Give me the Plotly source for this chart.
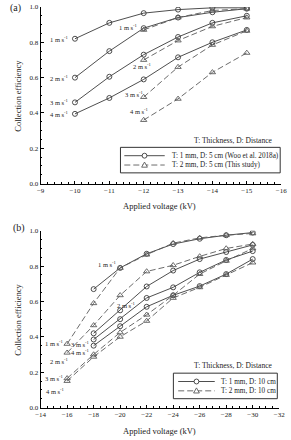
import plotly.graph_objects as go

# ---------------- data: panel (a) ----------------
volt_a = [-10, -11, -12, -13, -14, -15]
woo_1 = [0.82, 0.91, 0.965, 0.985, 0.995, 0.995]
woo_2 = [0.60, 0.75, 0.88, 0.94, 0.97, 0.99]
woo_3 = [0.46, 0.605, 0.73, 0.83, 0.91, 0.95]
woo_4 = [0.395, 0.485, 0.59, 0.715, 0.80, 0.87]

volt_a_study = [-12, -13, -14, -15]
study_1 = [0.87, 0.94, 0.98, 0.99]
study_2 = [0.70, 0.81, 0.89, 0.94]
study_3 = [0.49, 0.66, 0.785, 0.865]
study_4 = [0.36, 0.48, 0.63, 0.74]

# ---------------- data: panel (b) ----------------
volt_b_1mm = [-18, -20, -22, -24, -26, -28, -30]
t1_1 = [0.67, 0.79, 0.87, 0.925, 0.955, 0.975, 0.99]
t1_2 = [0.42, 0.55, 0.685, 0.775, 0.84, 0.88, 0.92]
t1_3 = [0.385, 0.50, 0.62, 0.68, 0.765, 0.835, 0.885]
t1_4 = [0.35, 0.46, 0.57, 0.635, 0.687, 0.755, 0.84]

volt_b_2mm = [-16, -18, -20, -22, -24, -26, -28, -30]
t2_1 = [0.36, 0.59, 0.79, 0.865, 0.93, 0.96, 0.975, 0.985]
t2_2 = [0.31, 0.465, 0.635, 0.77, 0.805, 0.855, 0.90, 0.925]
t2_3 = [0.165, 0.30, 0.425, 0.525, 0.635, 0.755, 0.83, 0.90]
t2_4 = [0.15, 0.287, 0.40, 0.49, 0.62, 0.68, 0.75, 0.82]

speed_labels = ["1 m s<sup>-1</sup>", "2 m s<sup>-1</sup>", "3 m s<sup>-1</sup>", "4 m s<sup>-1</sup>"]
legend_a = ["T: 1 mm, D: 5 cm (Woo et al. 2018a)", "T: 2 mm, D: 5 cm (This study)"]
legend_b = ["T: 1 mm, D: 10 cm", "T: 2 mm, D: 10 cm"]

FONT = "Liberation Serif"
SOLID_C = "#3a3a3a"
DASH_C = "#5a5a5a"
DASH = "6px,3px"

fig = go.Figure()

def add(xs, ys, solid, xa, ya, name):
    fig.add_trace(go.Scatter(
        x=xs, y=ys, mode="lines+markers", xaxis=xa, yaxis=ya,
        line=dict(color=SOLID_C if solid else DASH_C, width=0.9,
                  dash="solid" if solid else DASH),
        marker=dict(symbol="circle-open" if solid else "triangle-up-open",
                    size=5 if solid else 5.5,
                    color=SOLID_C if solid else DASH_C,
                    line=dict(width=0.9)),
        name=name, showlegend=False))

for ys in [woo_1, woo_2, woo_3, woo_4]:
    add(volt_a, ys, True, "x", "y", legend_a[0])
for ys in [study_1, study_2, study_3, study_4]:
    add(volt_a_study, ys, False, "x", "y", legend_a[1])
for ys in [t1_1, t1_2, t1_3, t1_4]:
    add(volt_b_1mm, ys, True, "x2", "y2", legend_b[0])
for ys in [t2_1, t2_2, t2_3, t2_4]:
    add(volt_b_2mm, ys, False, "x2", "y2", legend_b[1])

W, H = 291, 440
def px(x):
    return x / W
def py(y):
    return 1 - y / H

axis_common = dict(showline=True, linecolor="black", linewidth=1, ticks="inside",
                   ticklen=3, tickwidth=0.8, tickcolor="black", showgrid=False,
                   zeroline=False, mirror=False,
                   tickfont=dict(family=FONT, size=7, color="#222"))

fig.update_layout(
    width=W, height=H, margin=dict(l=0, r=0, t=0, b=0),
    paper_bgcolor="white", plot_bgcolor="white",
    font=dict(family=FONT, color="#222"), showlegend=False,
    xaxis=dict(domain=[px(37), px(287)], range=[-9, -16], dtick=1, anchor="y",
               minor=dict(dtick=0.2, ticks="inside", ticklen=1.5, tickcolor="black"),
               **axis_common),
    yaxis=dict(domain=[py(183), py(3)], range=[0, 1.0], dtick=0.2, tickformat=".1f",
               anchor="x",
               minor=dict(dtick=0.05, ticks="inside", ticklen=1.5, tickcolor="black"),
               **axis_common),
    xaxis2=dict(domain=[px(37), px(285)], range=[-14, -32], dtick=2, anchor="y2",
                minor=dict(dtick=0.5, ticks="inside", ticklen=1.5, tickcolor="black"),
                **axis_common),
    yaxis2=dict(domain=[py(411), py(231)], range=[0, 1.0], dtick=0.2, tickformat=".1f",
                anchor="x2",
                minor=dict(dtick=0.05, ticks="inside", ticklen=1.5, tickcolor="black"),
                **axis_common),
)

ann = []
def A(text, x, y, xref="paper", yref="paper", size=7, xanchor="center", yanchor="middle", angle=0):
    ann.append(dict(text=text, x=x, y=y, xref=xref, yref=yref, showarrow=False,
                    font=dict(family=FONT, size=size, color="#222"),
                    xanchor=xanchor, yanchor=yanchor, textangle=angle))

# panel labels and titles
A("(a)", px(3), py(4), size=10, xanchor="left")
A("(b)", px(6), py(228), size=10, xanchor="left")
A("Collection efficiency", px(14), py(93), size=8.5, angle=-90)
A("Collection efficiency", px(14), py(321), size=8.5, angle=-90)
A("Applied voltage (kV)", px(161), py(206), size=8.5)
A("Applied voltage (kV)", px(161), py(435), size=8.5)
A("T: Thickness, D: Distance", px(237), py(139), size=7.5)
A("T: Thickness, D: Distance", px(237), py(368), size=7.5)

# speed labels panel (a)
for lab, yv in zip(speed_labels, [woo_1[0], woo_2[0], woo_3[0], woo_4[0]]):
    A(lab, -9.85, yv, "x", "y", size=6.5, xanchor="right")
for lab, (xv, yv) in zip(speed_labels, [(-11.55, 0.885), (-11.94, 0.667), (-11.72, 0.505), (-11.86, 0.41)]):
    A(lab, xv, yv, "x", "y", size=6.5)

# speed labels panel (b)
for lab, (xv, yv) in zip(speed_labels, [(-19.0, 0.811), (-20.46, 0.583), (-16.98, 0.361), (-16.98, 0.317)]):
    A(lab, xv, yv, "x2", "y2", size=6.5)
for lab, (xv, yv) in zip(speed_labels, [(-15.02, 0.367), (-15.38, 0.261), (-15.02, 0.167), (-15.09, 0.094)]):
    A(lab, xv, yv, "x2", "y2", size=6.5)

# ---------------- compact legend boxes (layout decoration) ----------------
shapes = []
def legend_box(x0, y0, x1, y1, sx0, sx1, smid, tx, rows, names):
    shapes.append(dict(type="rect", xref="paper", yref="paper",
                       x0=px(x0), x1=px(x1), y0=py(y1), y1=py(y0),
                       line=dict(color="#333", width=1), fillcolor="rgba(0,0,0,0)"))
    for k, (ry, nm) in enumerate(zip(rows, names)):
        solid = k == 0
        col = SOLID_C if solid else DASH_C
        shapes.append(dict(type="line", xref="paper", yref="paper",
                           x0=px(sx0), x1=px(sx1), y0=py(ry), y1=py(ry),
                           line=dict(color=col, width=0.9, dash="solid" if solid else DASH)))
        r = 2.5
        if solid:
            shapes.append(dict(type="circle", xref="paper", yref="paper",
                               x0=px(smid - r), x1=px(smid + r), y0=py(ry + r), y1=py(ry - r),
                               line=dict(color=col, width=0.9), fillcolor="white"))
        else:
            path = "M {:.5f},{:.5f} L {:.5f},{:.5f} L {:.5f},{:.5f} Z".format(
                px(smid), py(ry - 3), px(smid - 3), py(ry + 2.2), px(smid + 3), py(ry + 2.2))
            shapes.append(dict(type="path", xref="paper", yref="paper", path=path,
                               line=dict(color=col, width=0.9), fillcolor="white"))
        A(nm, px(tx), py(ry), size=7.2, xanchor="left")

legend_box(120, 146, 286, 172, 124, 166, 145, 171, [154.5, 164], legend_a)
legend_box(175, 376, 283, 402, 180, 218, 199, 222, [384.5, 394], legend_b)

fig.update_layout(annotations=ann, shapes=shapes)
fig.write_html("out.html")
